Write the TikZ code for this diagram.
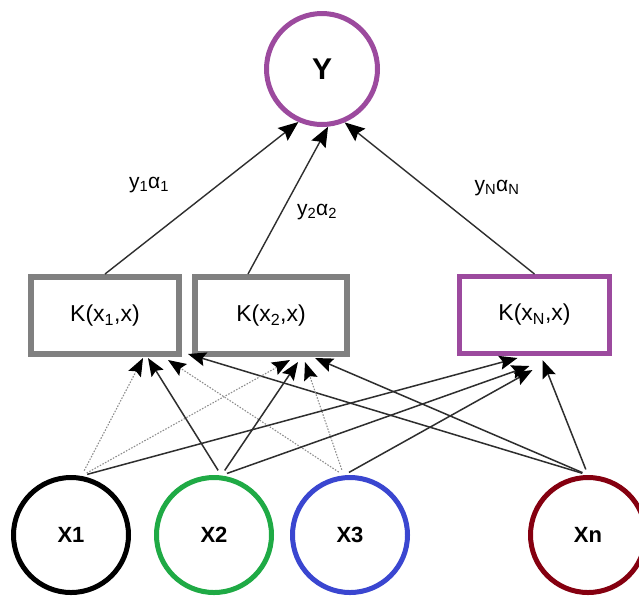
\documentclass[tikz,border=0pt]{standalone}
\usepackage{fontspec}
\setmainfont{Liberation Sans}
\usetikzlibrary{arrows.meta,calc}
\definecolor{kpurple}{HTML}{9C4A9E}
\definecolor{kgray}{HTML}{808080}
\definecolor{kgreen}{HTML}{1FAA45}
\definecolor{kblue}{HTML}{3A46D0}
\definecolor{kred}{HTML}{850010}
\definecolor{kline}{HTML}{2E2E2E}
\definecolor{kdot}{HTML}{8C8C8C}
\begin{document}
\begin{tikzpicture}[x=1pt,y=-1pt,
  inp/.style={circle,draw,line width=5pt,minimum size=115pt,inner sep=0pt,
    font=\fontsize{22}{26}\selectfont\bfseries},
  outp/.style={circle,draw=kpurple,line width=5pt,minimum size=111pt,inner sep=0pt,
    font=\fontsize{30}{34}\selectfont\bfseries},
  kbox/.style={rectangle,draw=kgray,line width=6pt,minimum height=77pt,inner sep=0pt,
    font=\fontsize{23}{27}\selectfont},
  wlab/.style={font=\fontsize{21}{24}\selectfont,inner sep=0pt},
  sedge/.style={draw=kline,line width=1.5pt,shorten <=6pt,
    -{Stealth[length=18pt,width=14pt,inset=3pt,black]}},
  dedge/.style={draw=kdot,line width=1.1pt,dash pattern=on 1.5pt off 1.5pt,shorten <=6pt,
    -{Stealth[length=18pt,width=14pt,inset=3pt,black]}},
  tedge/.style={draw=kline,line width=1.4pt,
    -{Stealth[length=20pt,width=16pt,inset=3pt,black]}}]
\useasboundingbox (0,0) rectangle (639,598);
\fill[white] (0,0) rectangle (639,598);

% output
\node[outp] (Y) at (322,69) {Y};

% kernel boxes
\node[kbox,minimum width=148pt] (b1) at (105,315.5) {K(x\textsubscript{1},x)};
\node[kbox,minimum width=152pt] (b2) at (271,315.5) {K(x\textsubscript{2},x)};
\node[kbox,draw=kpurple,line width=5pt,minimum width=150pt] (b3) at (534.5,315) {K(x\textsubscript{N},x)};

% inputs
\node[inp,draw=black] (x1) at (71,535) {X1};
\node[inp,draw=kgreen] (x2) at (214,535) {X2};
\node[inp,draw=kblue] (x3) at (350,535) {X3};
\node[inp,draw=kred] (xn) at (588,535) {Xn};

% box -> Y
\draw[tedge] (b1.north) -- (Y.246);
\draw[tedge] ([xshift=-23pt]b2.north) -- (Y.276);
\draw[tedge] (b3.north) -- (Y.293);

% weights
\node[wlab] (l1) at (149,185) {y\textsubscript{1}α\textsubscript{1}};
\node[wlab] (l2) at (317,212) {y\textsubscript{2}α\textsubscript{2}};
\node[wlab] (l3) at (497,188) {y\textsubscript{N}α\textsubscript{N}};

% inputs -> box1
\draw[dedge] (x1.80) -- ([xshift=38pt,yshift=-1pt]b1.south);
\draw[sedge] (x2.83) -- ([xshift=43pt,yshift=-1pt]b1.south);
\draw[dedge] (x3.96) -- ([xshift=63pt,yshift=-3pt]b1.south);
\draw[sedge] (xn.90) -- ([xshift=83pt,yshift=3pt]b1.south);

% inputs -> box2
\draw[dedge] (x1.80) -- ([xshift=19pt,yshift=-3pt]b2.south);
\draw[sedge] (x2.83) -- ([xshift=27pt,yshift=-5pt]b2.south);
\draw[dedge] (x3.96) -- ([xshift=34pt,yshift=-5pt]b2.south);
\draw[sedge] (xn.90) -- ([xshift=44pt,yshift=-1pt]b2.south);

% inputs -> box3
\draw[sedge] (x1.80) -- ([xshift=-17pt,yshift=-2pt]b3.south);
\draw[sedge] (x2.83) -- ([xshift=-5pt,yshift=-10pt]b3.south);
\draw[sedge] (x3.96) -- ([xshift=-2pt,yshift=-14pt]b3.south);
\draw[sedge] (xn.90) -- ([xshift=8pt,yshift=-4pt]b3.south);
\end{tikzpicture}
\end{document}
